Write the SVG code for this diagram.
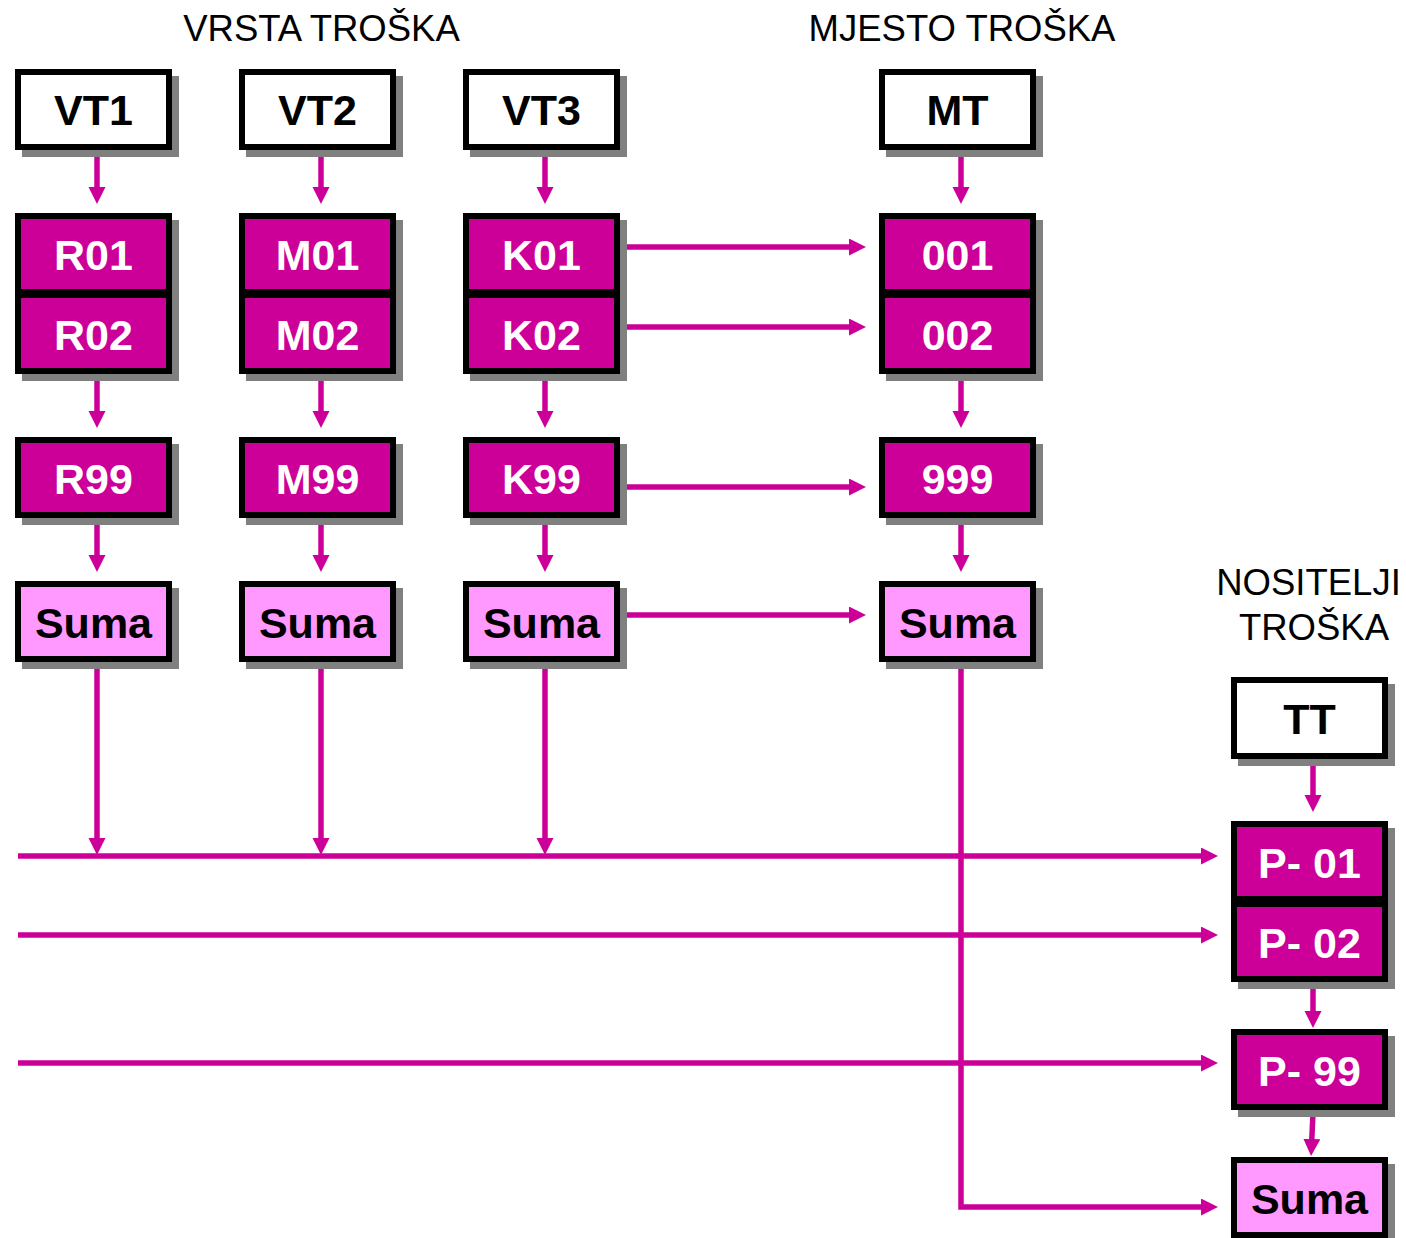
<svg xmlns="http://www.w3.org/2000/svg" width="1406" height="1238" viewBox="0 0 1406 1238">
<defs>
<style>
.sh{fill:#808080}
.bw{fill:#fff;stroke:#000;stroke-width:6}
.bm{fill:#CC0099;stroke:#000;stroke-width:6}
.bp{fill:#FF99FF;stroke:#000;stroke-width:6}
.t{font-family:"Liberation Sans",Arial,sans-serif;font-weight:bold;font-size:43px;text-anchor:middle}
.tk{fill:#000}
.tw{fill:#fff}
.h{font-family:"Liberation Sans",Arial,sans-serif;font-size:36.5px;text-anchor:middle;fill:#000}
.c{fill:none;stroke:#CC0099;stroke-width:5.5}
</style>
<marker id="ah" markerUnits="userSpaceOnUse" markerWidth="18" markerHeight="18" refX="7" refY="8.5" orient="auto">
<path d="M0,0 L17,8.5 L0,17 z" fill="#CC0099"/>
</marker>
</defs>
<rect width="1406" height="1238" fill="#fff"/>

<text class="h" x="321.5" y="41">VRSTA TROŠKA</text>
<text class="h" x="962" y="41">MJESTO TROŠKA</text>
<text class="h" x="1308.5" y="595">NOSITELJI</text>
<text class="h" x="1314" y="640">TROŠKA</text>

<g id="connectors">
<line class="c" x1="97" y1="152" x2="97" y2="194" marker-end="url(#ah)"/>
<line class="c" x1="321" y1="152" x2="321" y2="194" marker-end="url(#ah)"/>
<line class="c" x1="545" y1="152" x2="545" y2="194" marker-end="url(#ah)"/>
<line class="c" x1="961" y1="152" x2="961" y2="194" marker-end="url(#ah)"/>
<line class="c" x1="97" y1="376" x2="97" y2="418" marker-end="url(#ah)"/>
<line class="c" x1="321" y1="376" x2="321" y2="418" marker-end="url(#ah)"/>
<line class="c" x1="545" y1="376" x2="545" y2="418" marker-end="url(#ah)"/>
<line class="c" x1="961" y1="376" x2="961" y2="418" marker-end="url(#ah)"/>
<line class="c" x1="97" y1="520" x2="97" y2="562" marker-end="url(#ah)"/>
<line class="c" x1="321" y1="520" x2="321" y2="562" marker-end="url(#ah)"/>
<line class="c" x1="545" y1="520" x2="545" y2="562" marker-end="url(#ah)"/>
<line class="c" x1="961" y1="520" x2="961" y2="562" marker-end="url(#ah)"/>
<line class="c" x1="626" y1="247" x2="856" y2="247" marker-end="url(#ah)"/>
<line class="c" x1="626" y1="327" x2="856" y2="327" marker-end="url(#ah)"/>
<line class="c" x1="626" y1="487" x2="856" y2="487" marker-end="url(#ah)"/>
<line class="c" x1="626" y1="615" x2="856" y2="615" marker-end="url(#ah)"/>
<line class="c" x1="97" y1="665" x2="97" y2="845" marker-end="url(#ah)"/>
<line class="c" x1="321" y1="665" x2="321" y2="845" marker-end="url(#ah)"/>
<line class="c" x1="545" y1="665" x2="545" y2="845" marker-end="url(#ah)"/>
<line class="c" x1="18" y1="856" x2="1208" y2="856" marker-end="url(#ah)"/>
<line class="c" x1="18" y1="935" x2="1208" y2="935" marker-end="url(#ah)"/>
<line class="c" x1="18" y1="1063" x2="1208" y2="1063" marker-end="url(#ah)"/>
<path class="c" d="M961,665 V1207 H1208" marker-end="url(#ah)"/>
<line class="c" x1="1313" y1="762" x2="1313" y2="802" marker-end="url(#ah)"/>
<line class="c" x1="1313" y1="985" x2="1313" y2="1018" marker-end="url(#ah)"/>
<line class="c" x1="1313" y1="1112" x2="1311.5" y2="1146" marker-end="url(#ah)"/>
</g>

<g id="VT1"><rect class="sh" x="22" y="76" width="157" height="81"/><rect class="bw" x="18" y="72" width="151" height="75"/><text class="t tk" x="93.5" y="125">VT1</text></g>
<g id="VT2"><rect class="sh" x="246" y="76" width="157" height="81"/><rect class="bw" x="242" y="72" width="151" height="75"/><text class="t tk" x="317.5" y="125">VT2</text></g>
<g id="VT3"><rect class="sh" x="470" y="76" width="157" height="81"/><rect class="bw" x="466" y="72" width="151" height="75"/><text class="t tk" x="541.5" y="125">VT3</text></g>
<g id="MT"><rect class="sh" x="886" y="76" width="157" height="81"/><rect class="bw" x="882" y="72" width="151" height="75"/><text class="t tk" x="957.5" y="125">MT</text></g>

<g id="R01"><rect class="sh" x="22" y="220" width="157" height="82"/><rect class="bm" x="18" y="216" width="151" height="76"/><text class="t tw" x="93.5" y="270">R01</text></g>
<g id="R02"><rect class="sh" x="22" y="299" width="157" height="82"/><rect class="bm" x="18" y="295" width="151" height="76"/><text class="t tw" x="93.5" y="350">R02</text></g>
<g id="M01"><rect class="sh" x="246" y="220" width="157" height="82"/><rect class="bm" x="242" y="216" width="151" height="76"/><text class="t tw" x="317.5" y="270">M01</text></g>
<g id="M02"><rect class="sh" x="246" y="299" width="157" height="82"/><rect class="bm" x="242" y="295" width="151" height="76"/><text class="t tw" x="317.5" y="350">M02</text></g>
<g id="K01"><rect class="sh" x="470" y="220" width="157" height="82"/><rect class="bm" x="466" y="216" width="151" height="76"/><text class="t tw" x="541.5" y="270">K01</text></g>
<g id="K02"><rect class="sh" x="470" y="299" width="157" height="82"/><rect class="bm" x="466" y="295" width="151" height="76"/><text class="t tw" x="541.5" y="350">K02</text></g>
<g id="n001"><rect class="sh" x="886" y="220" width="157" height="82"/><rect class="bm" x="882" y="216" width="151" height="76"/><text class="t tw" x="957.5" y="270">001</text></g>
<g id="n002"><rect class="sh" x="886" y="299" width="157" height="82"/><rect class="bm" x="882" y="295" width="151" height="76"/><text class="t tw" x="957.5" y="350">002</text></g>

<g id="R99"><rect class="sh" x="22" y="444" width="157" height="81"/><rect class="bm" x="18" y="440" width="151" height="75"/><text class="t tw" x="93.5" y="494">R99</text></g>
<g id="M99"><rect class="sh" x="246" y="444" width="157" height="81"/><rect class="bm" x="242" y="440" width="151" height="75"/><text class="t tw" x="317.5" y="494">M99</text></g>
<g id="K99"><rect class="sh" x="470" y="444" width="157" height="81"/><rect class="bm" x="466" y="440" width="151" height="75"/><text class="t tw" x="541.5" y="494">K99</text></g>
<g id="n999"><rect class="sh" x="886" y="444" width="157" height="81"/><rect class="bm" x="882" y="440" width="151" height="75"/><text class="t tw" x="957.5" y="494">999</text></g>

<g id="SumaR"><rect class="sh" x="22" y="588" width="157" height="81"/><rect class="bp" x="18" y="584" width="151" height="75"/><text class="t tk" x="93.5" y="638">Suma</text></g>
<g id="SumaM"><rect class="sh" x="246" y="588" width="157" height="81"/><rect class="bp" x="242" y="584" width="151" height="75"/><text class="t tk" x="317.5" y="638">Suma</text></g>
<g id="SumaK"><rect class="sh" x="470" y="588" width="157" height="81"/><rect class="bp" x="466" y="584" width="151" height="75"/><text class="t tk" x="541.5" y="638">Suma</text></g>
<g id="SumaMT"><rect class="sh" x="886" y="588" width="157" height="81"/><rect class="bp" x="882" y="584" width="151" height="75"/><text class="t tk" x="957.5" y="638">Suma</text></g>

<g id="TT"><rect class="sh" x="1238" y="684" width="157" height="82"/><rect class="bw" x="1234" y="680" width="151" height="76"/><text class="t tk" x="1309.5" y="734">TT</text></g>
<g id="P01"><rect class="sh" x="1238" y="828" width="157" height="81"/><rect class="bm" x="1234" y="824" width="151" height="75"/><text class="t tw" x="1309.5" y="878">P- 01</text></g>
<g id="P02"><rect class="sh" x="1238" y="908" width="157" height="81"/><rect class="bm" x="1234" y="904" width="151" height="75"/><text class="t tw" x="1309.5" y="958">P- 02</text></g>
<g id="P99"><rect class="sh" x="1238" y="1036" width="157" height="81"/><rect class="bm" x="1234" y="1032" width="151" height="75"/><text class="t tw" x="1309.5" y="1086">P- 99</text></g>
<g id="SumaP"><rect class="sh" x="1238" y="1164" width="157" height="81"/><rect class="bp" x="1234" y="1160" width="151" height="75"/><text class="t tk" x="1309.5" y="1214">Suma</text></g>
</svg>
